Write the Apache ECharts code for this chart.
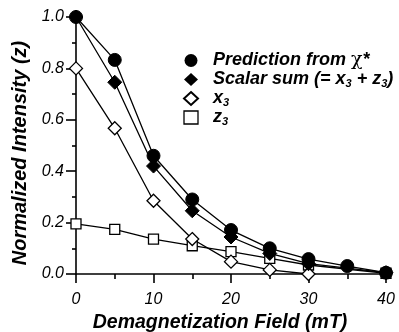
<!DOCTYPE html>
<html>
<head>
<meta charset="utf-8">
<script src="https://cdn.jsdelivr.net/npm/echarts@6/dist/echarts.min.js"></script>
<style>
  html, body { margin: 0; padding: 0; background: #fff; }
  #chart { width: 399px; height: 332px; }
</style>
</head>
<body>
<div id="chart"></div>
<script>
// data
const fieldPred = [0, 5, 10, 15, 20, 25, 30, 35, 40];
const prediction = [1.0, 0.833, 0.46, 0.29, 0.171, 0.10, 0.058, 0.031, 0.005];
const fieldOther = [0, 5, 10, 15, 20, 25, 30, 40];
const scalarSum = [1.0, 0.746, 0.42, 0.246, 0.144, 0.08, 0.04, 0.005];
const x3 = [0.8, 0.567, 0.285, 0.136, 0.048, 0.016, 0.0];
const z3 = [0.195, 0.174, 0.136, 0.11, 0.087, 0.061, 0.035, 0.003];

const font = 'Liberation Sans, Arial, sans-serif';

function pairs(xs, ys) {
    return ys.map((y, i) => [xs[i], y]);
}

const chart = echarts.init(document.getElementById('chart'));

const lineStyle = { color: '#000', width: 1.3 };
const axisColor = { color: '#000', width: 1.6 };

const option = {
    animation: false,
    grid: { left: 76, right: 13, top: 17, bottom: 58, containLabel: false, outerBoundsMode: 'none' },
    legend: {
        orient: 'vertical',
        left: 178,
        top: 46,
        itemGap: 0,
        itemWidth: 14,
        itemHeight: 13,
        data: [
            { name: 'pred', icon: 'circle' },
            { name: 'sum', icon: 'diamond' },
            { name: 'x3', icon: 'diamond' },
            { name: 'z3', icon: 'rect', itemStyle: { borderWidth: 1.3 } }
        ],
        formatter: function (name) {
            if (name === 'pred') return '{b|Prediction from }{c|χ}{b|*}';
            if (name === 'sum') return '{b|Scalar sum (= x}{s|3}{b| + z}{s|3}{b|)}';
            if (name === 'x3') return '{b|x}{s|3}';
            return '{b|z}{s|3}';
        },
        textStyle: {
            padding: [0, 0, 0, 10],
            rich: {
                b: { fontFamily: font, fontSize: 18, fontWeight: 'bold', fontStyle: 'italic', color: '#000', lineHeight: 20 },
                c: { fontFamily: 'DejaVu Serif', fontSize: 19, color: '#000', lineHeight: 20 },
                s: { fontFamily: font, fontSize: 11, fontWeight: 'bold', fontStyle: 'italic', color: '#000', lineHeight: 12, padding: [8, 0, 0, 0] }
            }
        }
    },
    xAxis: {
        type: 'value',
        min: 0,
        max: 40,
        interval: 10,
        name: 'Demagnetization Field (mT)',
        nameLocation: 'middle',
        nameGap: 36,
        nameTextStyle: {
            fontFamily: font, fontSize: 19.5, fontWeight: 'bold', fontStyle: 'italic', color: '#000',
            padding: [0, 22, 0, 0]
        },
        axisLine: { onZero: false, lineStyle: axisColor },
        axisTick: { length: 9, lineStyle: axisColor },
        minorTick: { show: true, splitNumber: 2, length: 5, lineStyle: axisColor },
        axisLabel: { fontFamily: font, fontSize: 16, fontStyle: 'italic', color: '#000', margin: 18 },
        splitLine: { show: false }
    },
    yAxis: {
        type: 'value',
        min: 0,
        max: 1,
        interval: 0.2,
        name: 'Normalized Intensity (z)',
        nameLocation: 'middle',
        nameGap: 41,
        nameTextStyle: {
            fontFamily: font, fontSize: 20, fontWeight: 'bold', fontStyle: 'italic', color: '#000',
            padding: [0, 15, 0, 0]
        },
        axisLine: { show: true, lineStyle: axisColor },
        axisTick: { show: true, length: 10, lineStyle: axisColor },
        minorTick: { show: true, splitNumber: 2, length: 4, lineStyle: axisColor },
        axisLabel: {
            fontFamily: font, fontSize: 16, fontStyle: 'italic', color: '#000', margin: 12,
            formatter: v => v.toFixed(1)
        },
        splitLine: { show: false }
    },
    series: [
        {
            name: 'z3', type: 'line', data: pairs(fieldOther, z3),
            symbol: 'rect', symbolSize: 10, lineStyle: lineStyle,
            itemStyle: { color: '#fff', borderColor: '#000', borderWidth: 1.3 }, z: 2
        },
        {
            name: 'x3', type: 'line', data: pairs(fieldOther, x3),
            symbol: 'diamond', symbolSize: 13, lineStyle: lineStyle,
            itemStyle: { color: '#fff', borderColor: '#000', borderWidth: 1.3 }, z: 3
        },
        {
            name: 'sum', type: 'line', data: pairs(fieldOther, scalarSum),
            symbol: 'diamond', symbolSize: 14, lineStyle: lineStyle,
            itemStyle: { color: '#000', borderColor: '#000' }, z: 4
        },
        {
            name: 'pred', type: 'line', data: pairs(fieldPred, prediction),
            symbol: 'circle', symbolSize: 13, lineStyle: lineStyle,
            itemStyle: { color: '#000', borderColor: '#000' }, z: 5
        }
    ]
};

chart.setOption(option);
</script>
</body>
</html>
